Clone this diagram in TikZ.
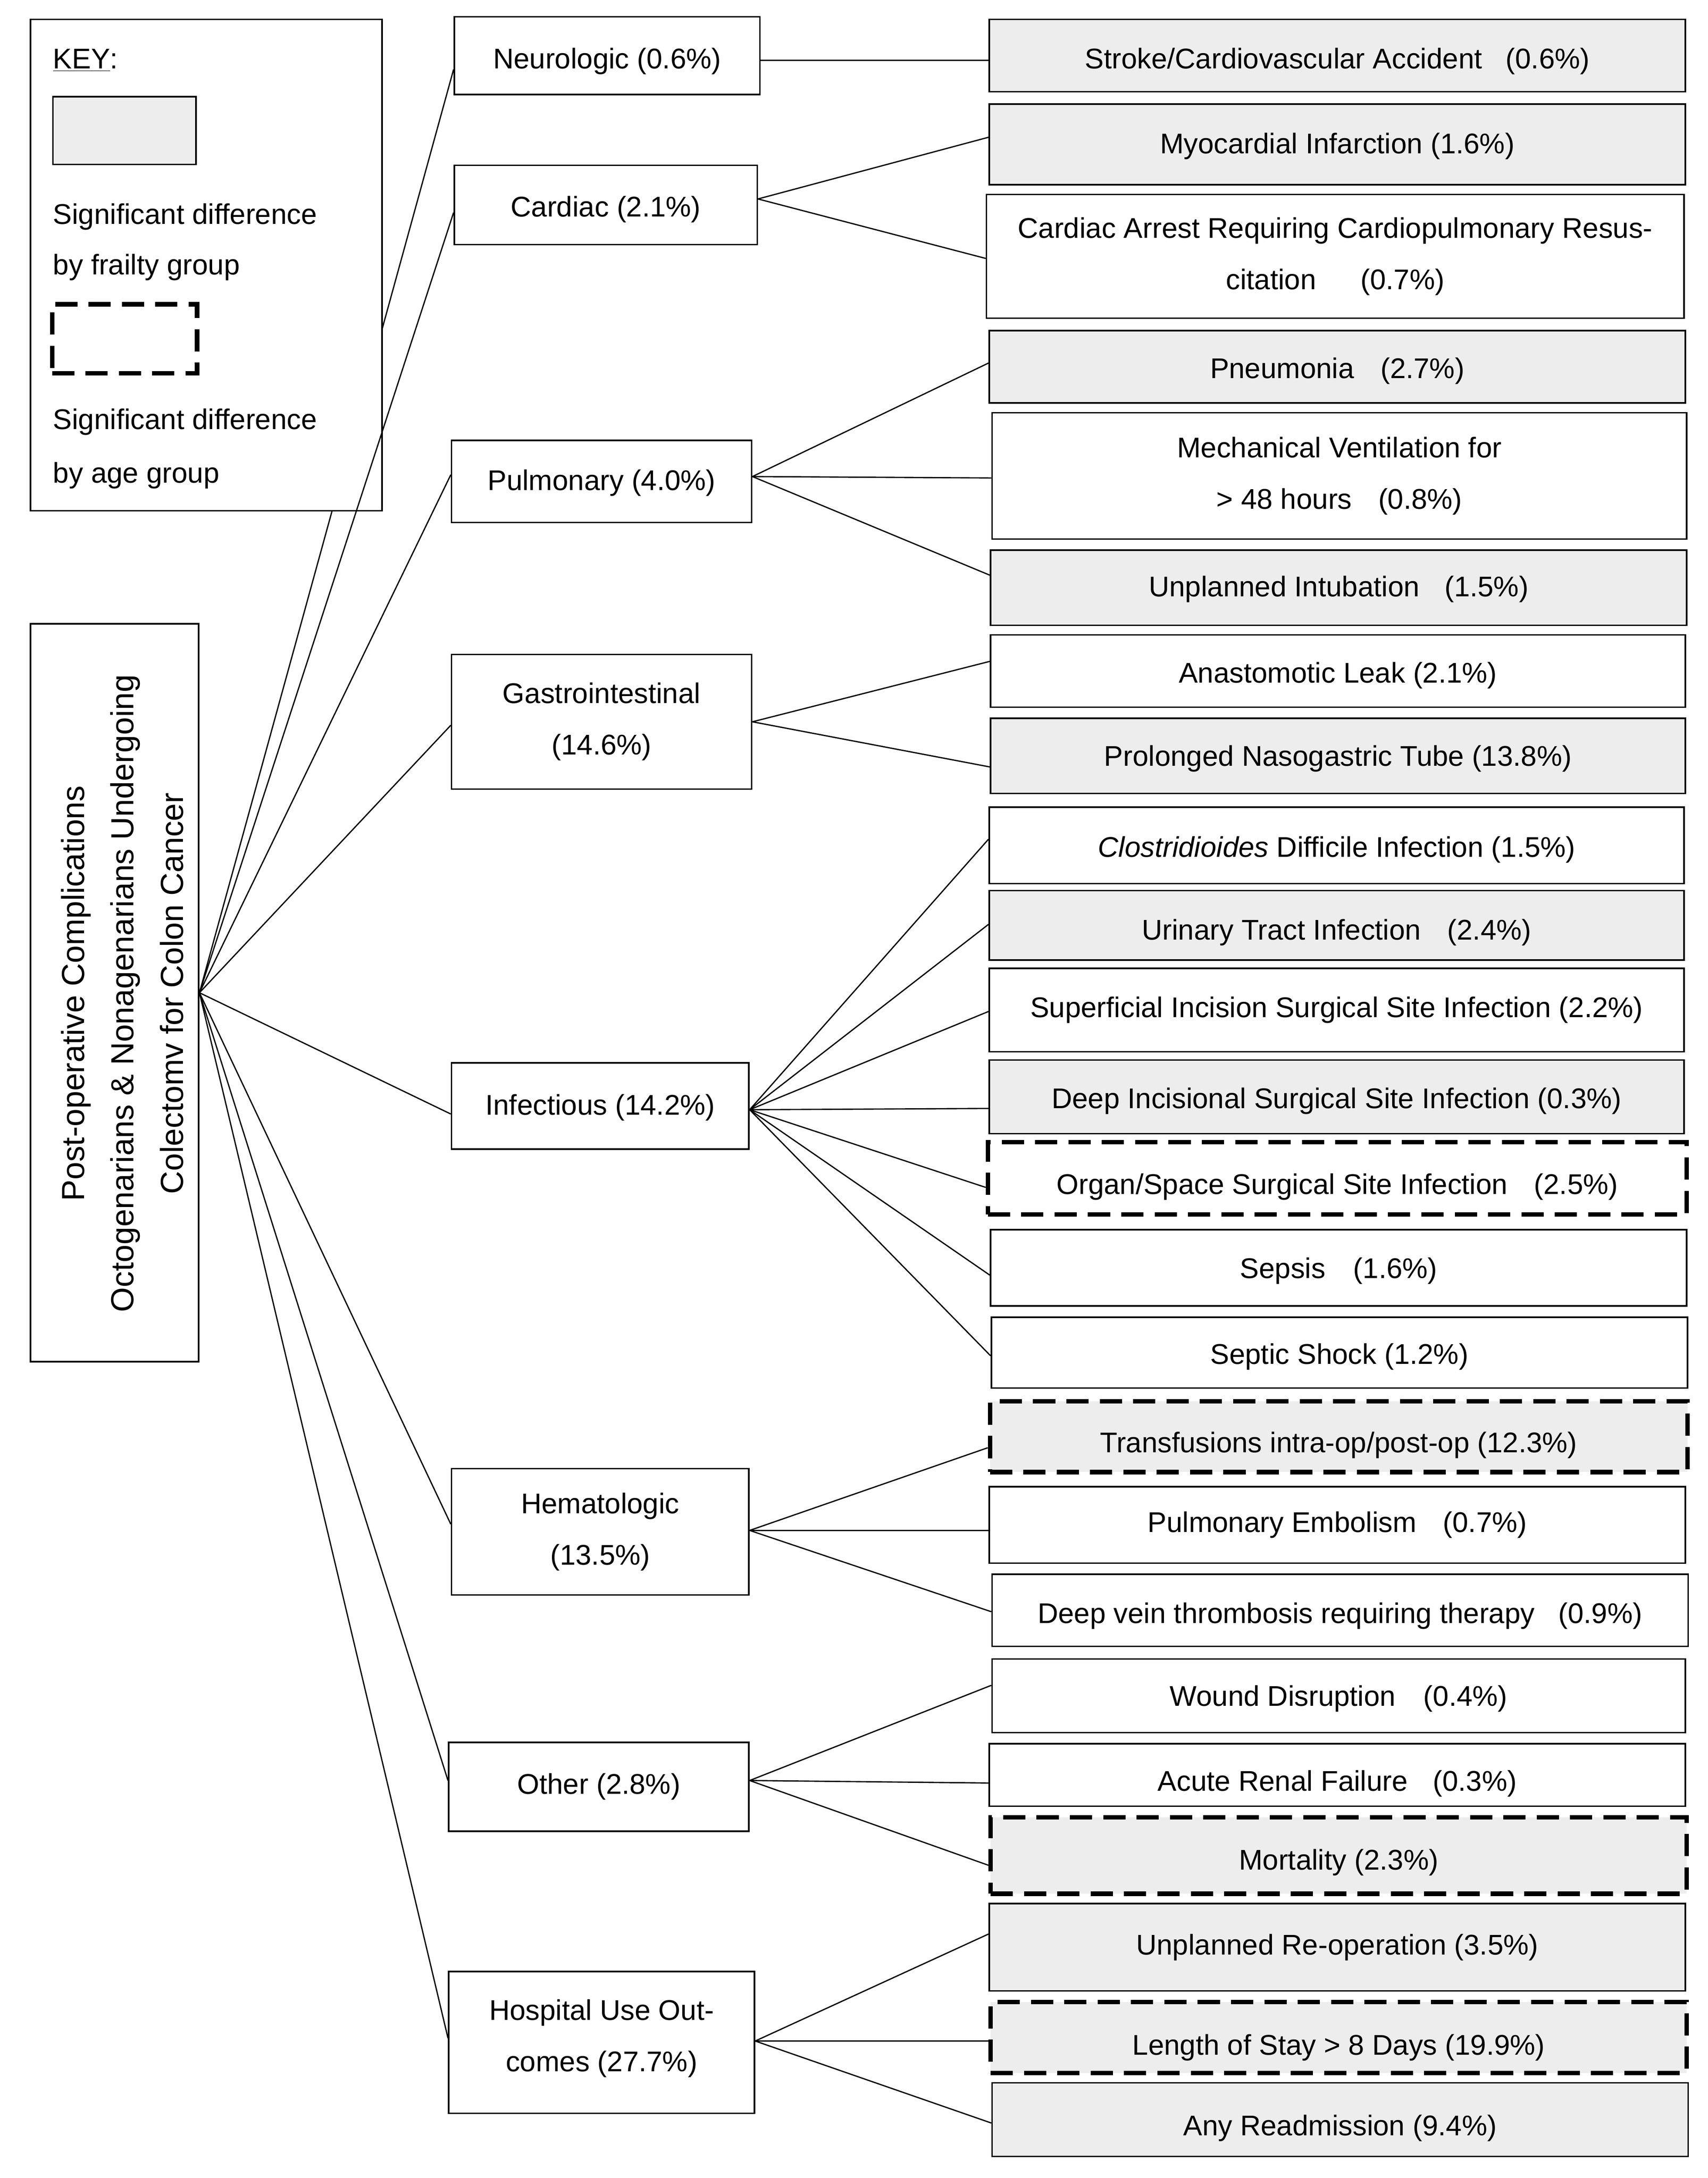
\documentclass[tikz,border=0pt]{standalone}
\usepackage{fontspec}
\setmainfont{Liberation Sans}
\usetikzlibrary{calc}
\definecolor{keygray}{HTML}{EDEDED}
\tikzset{
  box/.style={draw=black, line width=1.1pt, align=center, inner sep=0pt, fill=white,
              font=\fontsize{20.5pt}{37pt}\selectfont},
  leaf/.style={box, minimum width=501pt},
  sig/.style={fill=keygray},
  agebox/.style={line width=3.2pt, dash pattern=on 16pt off 8pt},
  conn/.style={draw=black, line width=0.9pt},
  dn/.style={execute at begin node={\rule{0pt}{#1}}},
  keytext/.style={anchor=base west, inner sep=0pt, font=\fontsize{20.5pt}{24pt}\selectfont},
}
\begin{document}
\begin{tikzpicture}[x=1pt, y=-1pt]
\useasboundingbox (0,0) rectangle (1229,1567.6);

% root
\node[box, minimum width=121pt, minimum height=531pt] (root) at (82.5,714.5) {};
\node[rotate=90, align=center, inner sep=0pt, font=\fontsize{23pt}{35.5pt}\selectfont] (roottext) at (88,715)
  {Post-operative Complications\\Octogenarians \& Nonagenarians Undergoing\\Colectomv for Colon Cancer};

% categories
\node[box, dn=23pt, minimum width=220pt, minimum height=56pt] (neuro) at (437,40) {Neurologic (0.6\%)};
\node[box, dn=21pt, minimum width=218pt, minimum height=57pt] (card) at (436,147.5) {Cardiac (2.1\%)};
\node[box, dn=17pt, minimum width=216pt, minimum height=59pt] (pulm) at (433,346.5) {Pulmonary (4.0\%)};
\node[box, minimum width=216pt, minimum height=97pt] (gi) at (433,519.5) {Gastrointestinal\\(14.6\%)};
\node[box, dn=17pt, minimum width=214pt, minimum height=62pt] (inf) at (432,796) {Infectious (14.2\%)};
\node[box, dn=19pt, minimum width=214pt, minimum height=91pt] (hema) at (432,1102.5) {Hematologic\\(13.5\%)};
\node[box, minimum width=216pt, minimum height=64pt] (other) at (431,1286) {Other (2.8\%)};
\node[box, minimum width=220pt, minimum height=102pt] (hosp) at (433,1470) {Hospital Use Out-\\comes (27.7\%)\rule[-10pt]{0pt}{0pt}};

% leaves
\node[leaf, sig, dn=23pt, minimum height=52pt] (stroke) at (962.5,40) {Stroke/Cardiovascular Accident\hspace{17pt}(0.6\%)};
\node[leaf, sig, dn=17pt, minimum height=58pt] (mi) at (962.5,104) {Myocardial Infarction (1.6\%)};
\node[leaf, dn=19pt, minimum width=502pt, minimum height=89pt] (arrest) at (961,184.5) {Cardiac Arrest Requiring Cardiopulmonary Resus-\\citation\hspace{32pt}(0.7\%)};
\node[leaf, sig, dn=21pt, minimum height=52pt] (pneu) at (962.5,264) {Pneumonia\hspace{19pt}(2.7\%)};
\node[leaf, dn=21pt, minimum width=500pt, minimum height=91pt] (mech) at (964,342.5) {Mechanical Ventilation for\\> 48 hours\hspace{19pt}(0.8\%)};
\node[leaf, sig, dn=17pt, minimum height=54pt] (intub) at (963.5,423) {Unplanned Intubation\hspace{18pt}(1.5\%)};
\node[leaf, dn=21pt, minimum width=500pt, minimum height=52pt] (anast) at (963,483) {Anastomotic Leak (2.1\%)};
\node[leaf, sig, dn=19pt, minimum width=500pt, minimum height=54pt] (ng) at (963,544) {Prolonged Nasogastric Tube (13.8\%)};
\node[leaf, dn=21pt, minimum width=500pt, minimum height=55pt] (cdiff) at (962,608.5) {\textit{Clostridioides} Difficile Infection (1.5\%)};
\node[leaf, sig, dn=25pt, minimum width=500pt, minimum height=50pt] (uti) at (962,666) {Urinary Tract Infection\hspace{19pt}(2.4\%)};
\node[leaf, minimum width=500pt, minimum height=60pt] (superf) at (962,727) {Superficial Incision Surgical Site Infection (2.2\%)};
\node[leaf, sig, dn=21pt, minimum width=500pt, minimum height=53pt] (deep) at (962,789.5) {Deep Incisional Surgical Site Infection (0.3\%)};
\node[leaf, agebox, dn=27pt, minimum width=503pt, minimum height=52pt] (organ) at (962.5,848) {Organ/Space Surgical Site Infection\hspace{19pt}(2.5\%)};
\node[leaf, dn=19pt, minimum width=501pt, minimum height=55pt] (sepsis) at (963.5,912.5) {Sepsis\hspace{20pt}(1.6\%)};
\node[leaf, dn=21pt, minimum width=501pt, minimum height=51pt] (shock) at (964,973.5) {Septic Shock (1.2\%)};
\node[leaf, sig, agebox, dn=27pt, minimum width=502pt, minimum height=51pt] (transf) at (963.5,1034) {Transfusions intra-op/post-op (12.3\%)};
\node[leaf, minimum height=55pt] (pe) at (962.5,1097.5) {Pulmonary Embolism\hspace{19pt}(0.7\%)};
\node[leaf, dn=23pt, minimum height=52pt] (dvt) at (964.5,1159) {Deep vein thrombosis requiring therapy\hspace{17pt}(0.9\%)};
\node[leaf, dn=19pt, minimum width=499pt, minimum height=53pt] (wound) at (963.5,1220.5) {Wound Disruption\hspace{20pt}(0.4\%)};
\node[leaf, dn=27pt, minimum height=45pt] (arf) at (962.5,1277.5) {Acute Renal Failure\hspace{18pt}(0.3\%)};
\node[leaf, sig, agebox, dn=25pt, minimum height=55pt] (mort) at (963.5,1335.5) {Mortality (2.3\%)};
\node[leaf, sig, minimum height=63pt] (reop) at (962.5,1401.5) {Unplanned Re-operation (3.5\%)};
\node[leaf, sig, agebox, dn=29pt, minimum height=51pt] (los) at (963.5,1466.5) {Length of Stay > 8 Days (19.9\%)};
\node[leaf, sig, dn=27pt, minimum height=53pt] (readm) at (964.5,1525.5) {Any Readmission (9.4\%)};

% root connector hidden by the key box
\draw[conn] (root.east) -- ([yshift=-10pt]neuro.west);

% key
\node[box, minimum width=253pt, minimum height=353.6pt] (key) at (148.5,190.8) {};
\node[keytext] (keytitle) at (38,49.5) {\underline{KEY}:};
\node[draw=black, line width=1.1pt, fill=keygray, inner sep=0pt, minimum width=103pt, minimum height=48.7pt] (keysig) at (89.6,94) {};
\node[keytext] (keyt1) at (38,161.2) {Significant difference};
\node[keytext] (keyt2) at (38,197.6) {by frailty group};
\node[draw=black, agebox, inner sep=0pt, minimum width=104.3pt, minimum height=49.6pt] (keyage) at (89.7,243.8) {};
\node[keytext] (keyt3) at (38,309) {Significant difference};
\node[keytext] (keyt4) at (38,347.6) {by age group};

% root to categories
\draw[conn] (root.east) -- ([yshift=-5.5pt]card.west);
\draw[conn] (root.east) -- ([yshift=4.8pt]pulm.west);
\draw[conn] (root.east) -- ([yshift=-2.5pt]gi.west);
\draw[conn] (root.east) -- ([yshift=-5.8pt]inf.west);
\draw[conn] (root.east) -- ([yshift=5.5pt]hema.west);
\draw[conn] (root.east) -- ([yshift=4.4pt]other.west);
\draw[conn] (root.east) -- ([yshift=3pt]hosp.west);

% categories to leaves
\draw[conn] ([yshift=-3.5pt]neuro.east) -- ([yshift=-3.5pt]stroke.west);

\draw[conn] ([yshift=4.3pt]card.east) -- ([yshift=5.2pt]mi.west);
\draw[conn] ([yshift=4.3pt]card.east) -- ([yshift=-1.5pt]arrest.west);

\draw[conn] ([yshift=3.5pt]pulm.east) -- ([yshift=2.7pt]pneu.west);
\draw[conn] ([yshift=3.5pt]pulm.east) -- ([yshift=-1.5pt]mech.west);
\draw[conn] ([yshift=3.5pt]pulm.east) -- ([yshift=9pt]intub.west);

\draw[conn] (gi.east) -- ([yshift=7pt]anast.west);
\draw[conn] (gi.east) -- ([yshift=-8pt]ng.west);

\draw[conn] ([yshift=-2.7pt]inf.east) -- ([yshift=4.5pt]cdiff.west);
\draw[conn] ([yshift=-2.7pt]inf.east) -- ([yshift=0.7pt]uti.west);
\draw[conn] ([yshift=-2.7pt]inf.east) -- ([yshift=-1pt]superf.west);
\draw[conn] ([yshift=-2.7pt]inf.east) -- ([yshift=-8.3pt]deep.west);
\draw[conn] ([yshift=-2.7pt]inf.east) -- ([yshift=-6.6pt]organ.west);
\draw[conn] ([yshift=-2.7pt]inf.east) -- ([yshift=-5.3pt]sepsis.west);
\draw[conn] ([yshift=-2.7pt]inf.east) -- ([yshift=-2.3pt]shock.west);

\draw[conn] ([yshift=1pt]hema.east) -- ([yshift=-8pt]transf.west);
\draw[conn] ([yshift=1pt]hema.east) -- ([yshift=-4pt]pe.west);
\draw[conn] ([yshift=1pt]hema.east) -- ([yshift=-1pt]dvt.west);

\draw[conn] ([yshift=4.5pt]other.east) -- ([yshift=7.5pt]wound.west);
\draw[conn] ([yshift=4.5pt]other.east) -- ([yshift=-5.8pt]arf.west);
\draw[conn] ([yshift=4.5pt]other.east) -- ([yshift=-7pt]mort.west);

\draw[conn] ([yshift=1pt]hosp.east) -- ([yshift=9.5pt]reop.west);
\draw[conn] ([yshift=1pt]hosp.east) -- ([yshift=-2.5pt]los.west);
\draw[conn] ([yshift=1pt]hosp.east) -- ([yshift=-2.5pt]readm.west);
\end{tikzpicture}
\end{document}
